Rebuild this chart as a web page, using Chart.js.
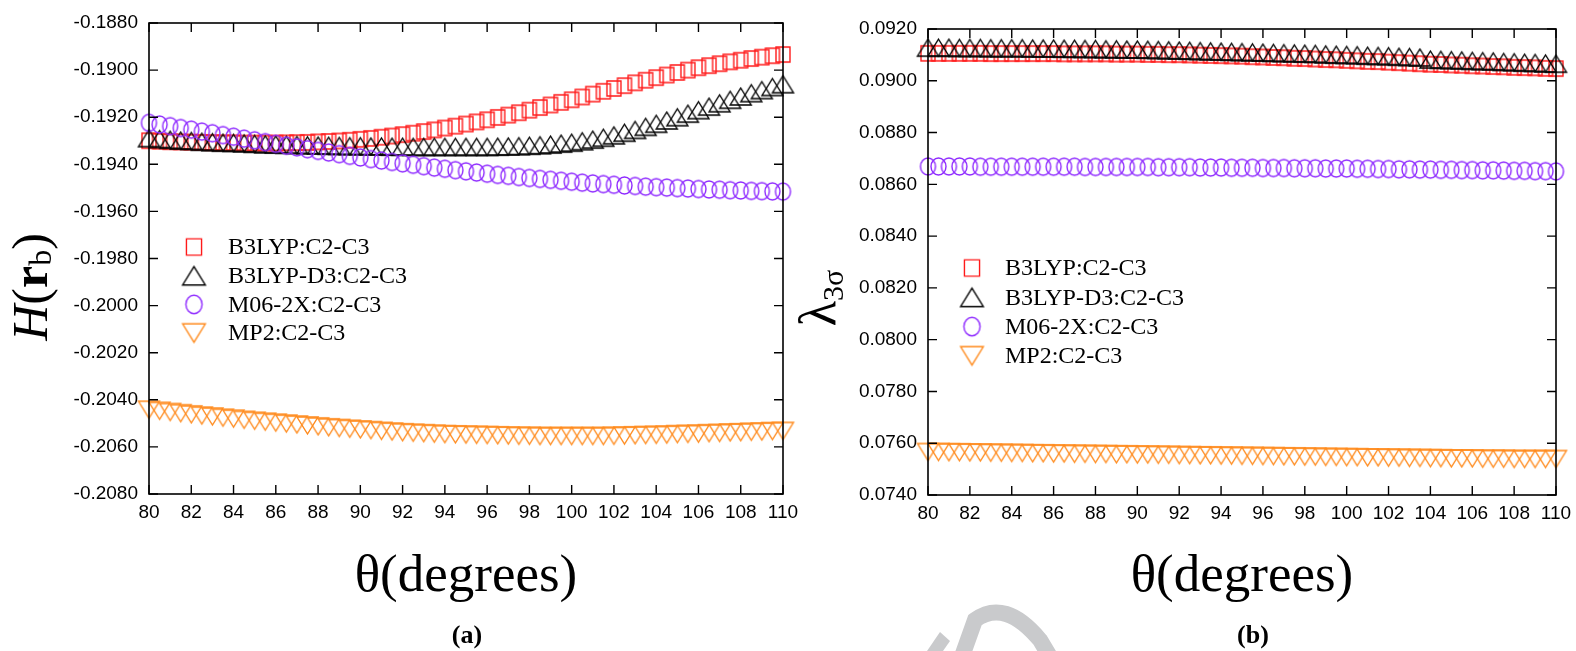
<!DOCTYPE html>
<html><head><meta charset="utf-8">
<script src="https://cdn.jsdelivr.net/npm/chart.js@4.4.1/dist/chart.umd.min.js"></script>
<style>
html,body{margin:0;padding:0;background:#fff;width:1576px;height:651px;overflow:hidden;position:relative}
canvas{position:absolute;top:0}
#wm{left:0}
#ca{left:0}
#cb{left:790px}
</style></head><body>
<canvas id="wm" width="1576" height="651"></canvas>
<canvas id="ca" width="820" height="651"></canvas>
<canvas id="cb" width="786" height="651"></canvas>
<script>
// ---------------- data ----------------
const theta = [80,80.5,81,81.5,82,82.5,83,83.5,84,84.5,85,85.5,86,86.5,87,87.5,88,88.5,89,89.5,90,90.5,91,91.5,92,92.5,93,93.5,94,94.5,95,95.5,96,96.5,97,97.5,98,98.5,99,99.5,100,100.5,101,101.5,102,102.5,103,103.5,104,104.5,105,105.5,106,106.5,107,107.5,108,108.5,109,109.5,110];
const seriesNames = ['B3LYP:C2-C3','B3LYP-D3:C2-C3','M06-2X:C2-C3','MP2:C2-C3'];

// panel (a): H(r_b)
const hB3LYP = [-0.19300,-0.19302,-0.19304,-0.19305,-0.19306,-0.19307,-0.19308,-0.19309,-0.19309,-0.19310,-0.19310,-0.19310,-0.19310,-0.19309,-0.19308,-0.19307,-0.19305,-0.19303,-0.19301,-0.19298,-0.19294,-0.19290,-0.19285,-0.19280,-0.19274,-0.19268,-0.19261,-0.19254,-0.19246,-0.19238,-0.19229,-0.19220,-0.19211,-0.19201,-0.19191,-0.19181,-0.19170,-0.19159,-0.19148,-0.19137,-0.19126,-0.19114,-0.19102,-0.19090,-0.19078,-0.19066,-0.19054,-0.19043,-0.19032,-0.19021,-0.19010,-0.19000,-0.18990,-0.18981,-0.18973,-0.18965,-0.18958,-0.18951,-0.18945,-0.18939,-0.18934];
const hB3LYPD3 = [-0.19289,-0.19293,-0.19296,-0.19299,-0.19301,-0.19304,-0.19306,-0.19308,-0.19309,-0.19311,-0.19313,-0.19315,-0.19316,-0.19317,-0.19318,-0.19319,-0.19320,-0.19321,-0.19322,-0.19323,-0.19323,-0.19324,-0.19324,-0.19325,-0.19325,-0.19326,-0.19326,-0.19326,-0.19326,-0.19326,-0.19326,-0.19326,-0.19326,-0.19325,-0.19324,-0.19323,-0.19321,-0.19319,-0.19316,-0.19312,-0.19308,-0.19302,-0.19295,-0.19287,-0.19277,-0.19266,-0.19254,-0.19241,-0.19228,-0.19214,-0.19200,-0.19185,-0.19170,-0.19155,-0.19141,-0.19126,-0.19112,-0.19098,-0.19085,-0.19072,-0.19060];
const hM062X = [-0.19224,-0.19231,-0.19238,-0.19246,-0.19253,-0.19261,-0.19268,-0.19276,-0.19283,-0.19291,-0.19298,-0.19306,-0.19313,-0.19321,-0.19328,-0.19336,-0.19343,-0.19350,-0.19357,-0.19364,-0.19371,-0.19378,-0.19384,-0.19390,-0.19396,-0.19402,-0.19408,-0.19414,-0.19419,-0.19425,-0.19430,-0.19435,-0.19440,-0.19445,-0.19449,-0.19454,-0.19458,-0.19462,-0.19466,-0.19470,-0.19474,-0.19478,-0.19481,-0.19484,-0.19487,-0.19490,-0.19492,-0.19495,-0.19497,-0.19499,-0.19501,-0.19503,-0.19505,-0.19507,-0.19508,-0.19510,-0.19511,-0.19513,-0.19514,-0.19515,-0.19516];
const hMP2 = [-0.20442,-0.20447,-0.20452,-0.20457,-0.20462,-0.20467,-0.20471,-0.20476,-0.20480,-0.20485,-0.20489,-0.20493,-0.20497,-0.20501,-0.20505,-0.20509,-0.20513,-0.20517,-0.20520,-0.20523,-0.20526,-0.20529,-0.20532,-0.20535,-0.20538,-0.20540,-0.20542,-0.20544,-0.20546,-0.20547,-0.20548,-0.20549,-0.20550,-0.20551,-0.20552,-0.20553,-0.20553,-0.20554,-0.20554,-0.20554,-0.20554,-0.20554,-0.20554,-0.20554,-0.20553,-0.20552,-0.20551,-0.20550,-0.20549,-0.20548,-0.20546,-0.20545,-0.20544,-0.20542,-0.20541,-0.20539,-0.20538,-0.20536,-0.20535,-0.20533,-0.20532];

// panel (b): lambda_3sigma
const lB3LYP = [0.09106,0.09106,0.09106,0.09106,0.09106,0.09106,0.09105,0.09105,0.09105,0.09105,0.09105,0.09105,0.09105,0.09104,0.09104,0.09104,0.09104,0.09104,0.09103,0.09103,0.09103,0.09102,0.09102,0.09101,0.09101,0.09100,0.09099,0.09098,0.09097,0.09096,0.09095,0.09093,0.09092,0.09090,0.09089,0.09087,0.09086,0.09084,0.09082,0.09081,0.09079,0.09077,0.09075,0.09074,0.09072,0.09070,0.09068,0.09066,0.09064,0.09063,0.09061,0.09060,0.09058,0.09057,0.09055,0.09054,0.09052,0.09051,0.09050,0.09048,0.09047];
const lB3LYPD3 = [0.09128,0.09128,0.09128,0.09127,0.09127,0.09127,0.09126,0.09126,0.09126,0.09126,0.09125,0.09125,0.09125,0.09124,0.09124,0.09123,0.09123,0.09122,0.09122,0.09121,0.09121,0.09120,0.09119,0.09118,0.09117,0.09116,0.09115,0.09114,0.09113,0.09112,0.09111,0.09110,0.09109,0.09108,0.09107,0.09106,0.09105,0.09104,0.09102,0.09101,0.09100,0.09099,0.09097,0.09096,0.09095,0.09093,0.09092,0.09090,0.09082,0.09081,0.09080,0.09079,0.09077,0.09076,0.09075,0.09073,0.09072,0.09070,0.09069,0.09067,0.09066];
const lM062X = [0.08669,0.08669,0.08669,0.08669,0.08669,0.08668,0.08668,0.08668,0.08668,0.08668,0.08668,0.08668,0.08668,0.08668,0.08668,0.08667,0.08667,0.08667,0.08667,0.08667,0.08667,0.08667,0.08666,0.08666,0.08666,0.08666,0.08665,0.08665,0.08665,0.08664,0.08664,0.08664,0.08663,0.08663,0.08663,0.08662,0.08662,0.08662,0.08661,0.08661,0.08661,0.08660,0.08660,0.08659,0.08659,0.08658,0.08658,0.08657,0.08657,0.08656,0.08656,0.08655,0.08655,0.08654,0.08654,0.08653,0.08652,0.08652,0.08651,0.08651,0.08650];
const lMP2 = [0.07566,0.07566,0.07565,0.07565,0.07564,0.07564,0.07563,0.07563,0.07562,0.07562,0.07561,0.07561,0.07560,0.07560,0.07559,0.07559,0.07558,0.07558,0.07557,0.07557,0.07556,0.07556,0.07555,0.07555,0.07554,0.07554,0.07553,0.07553,0.07552,0.07552,0.07551,0.07551,0.07550,0.07550,0.07549,0.07549,0.07548,0.07548,0.07547,0.07547,0.07546,0.07546,0.07545,0.07545,0.07544,0.07544,0.07543,0.07543,0.07542,0.07542,0.07541,0.07541,0.07541,0.07540,0.07540,0.07540,0.07539,0.07539,0.07539,0.07539,0.07539];

const xTicks = [80,82,84,86,88,90,92,94,96,98,100,102,104,106,108,110];
const yTicksA = [-0.2080,-0.2060,-0.2040,-0.2020,-0.2000,-0.1980,-0.1960,-0.1940,-0.1920,-0.1900,-0.1880];
const yTicksB = [0.0740,0.0760,0.0780,0.0800,0.0820,0.0840,0.0860,0.0880,0.0900,0.0920];

// ---------------- styles ----------------
const COLORS = ['#ff1a1a','#000000','#8f2bff','#ff8a1c'];
const SERIF = '"Liberation Serif","Times New Roman",serif';
const SANS = '"Liberation Sans",Arial,sans-serif';

function makeMarker(kind, color, s) {
  s = s || 1;
  const lw = 1.4;
  const dims = {square:[14,15], circle:[15,17], up:[21,17], down:[21,17]}[kind];
  const w = dims[0]*s, h = dims[1]*s;
  const c = document.createElement('canvas');
  c.width = Math.ceil(w + 6); c.height = Math.ceil(h + 6);
  const g = c.getContext('2d');
  const cx = c.width/2, cy = c.height/2;
  g.strokeStyle = color; g.lineWidth = lw; g.lineJoin = 'miter';
  g.beginPath();
  if (kind === 'square') g.rect(cx - w/2, cy - h/2, w, h);
  else if (kind === 'circle') g.ellipse(cx, cy, w/2, h/2, 0, 0, Math.PI*2);
  else if (kind === 'up') { g.moveTo(cx, cy - h/2); g.lineTo(cx + w/2, cy + h/2); g.lineTo(cx - w/2, cy + h/2); g.closePath(); }
  else { g.moveTo(cx - w/2, cy - h/2); g.lineTo(cx + w/2, cy - h/2); g.lineTo(cx, cy + h/2); g.closePath(); }
  g.stroke();
  return c;
}
const KINDS = ['square','up','circle','down'];
const MARKS = KINDS.map((k,i) => makeMarker(k, COLORS[i], 1));
const LEGMARKS = KINDS.map((k,i) => makeMarker(k, COLORS[i], 1.08));

function pts(ys) { return theta.map((t,i) => ({x: t, y: ys[i]})); }

function decoPlugin(p) {
  return {
    id: 'deco',
    afterDraw(chart) {
      const ctx = chart.ctx, a = chart.chartArea, xs = chart.scales.x, ys = chart.scales.y;
      ctx.save();
      ctx.strokeStyle = '#000'; ctx.lineWidth = 1.6;
      ctx.strokeRect(a.left, a.top, a.right - a.left, a.bottom - a.top);
      ctx.lineWidth = 1.4;
      ctx.beginPath();
      const TL = 9;
      xTicks.forEach(v => {
        const px = xs.getPixelForValue(v);
        ctx.moveTo(px, a.bottom); ctx.lineTo(px, a.bottom - TL);
        ctx.moveTo(px, a.top); ctx.lineTo(px, a.top + TL);
      });
      p.yTicks.forEach(v => {
        const py = ys.getPixelForValue(v);
        ctx.moveTo(a.left, py); ctx.lineTo(a.left + TL, py);
        ctx.moveTo(a.right, py); ctx.lineTo(a.right - TL, py);
      });
      ctx.stroke();
      // legend
      ctx.fillStyle = '#000';
      ctx.font = '24px ' + SERIF;
      ctx.textAlign = 'left'; ctx.textBaseline = 'middle';
      seriesNames.forEach((n,i) => {
        const y = p.legY + i * p.legDy;
        const m = LEGMARKS[i];
        ctx.drawImage(m, p.legMX - m.width/2, y - m.height/2);
        ctx.fillText(n, p.legTX, y + 1);
      });
      // x title
      ctx.textAlign = 'center'; ctx.textBaseline = 'alphabetic';
      ctx.font = '53px ' + SERIF;
      const cxm = (a.left + a.right) / 2;
      ctx.fillText('\u03B8(degrees)', cxm, 591);
      // panel label
      ctx.font = 'bold 26px ' + SERIF;
      ctx.fillText(p.panel, p.panelX, 643);
      // y title (rotated rich text)
      ctx.translate(p.yTitleX, p.yTitleY);
      ctx.rotate(-Math.PI/2);
      let total = 0;
      p.yTitle.forEach(part => { ctx.font = part.font; total += ctx.measureText(part.t).width; });
      let x = -total/2;
      ctx.textAlign = 'left';
      p.yTitle.forEach(part => { ctx.font = part.font; ctx.fillText(part.t, x, part.dy || 0); x += ctx.measureText(part.t).width; });
      ctx.restore();
    }
  };
}

function makeChart(id, p) {
  const ds = p.series.map((ys,i) => ({
    label: seriesNames[i], data: pts(ys), showLine: false,
    pointStyle: MARKS[i], pointRadius: 8, pointHoverRadius: 8,
    borderColor: COLORS[i], backgroundColor: 'rgba(0,0,0,0)', clip: false, order: 4 - i
  }));
  const tickFont = {family: SANS, size: 19};
  return new Chart(document.getElementById(id), {
    type: 'scatter',
    data: {datasets: ds},
    options: {
      responsive: false, animation: false, devicePixelRatio: 1,
      layout: {padding: {left: 0, top: p.top, right: p.right, bottom: 0}},
      plugins: {legend: {display: false}, tooltip: {enabled: false}},
      events: [],
      scales: {
        x: {
          type: 'linear', min: 80, max: 110,
          afterBuildTicks: s => { s.ticks = xTicks.map(v => ({value: v})); },
          ticks: {font: tickFont, color: '#000', padding: 7, maxRotation: 0, autoSkip: false},
          grid: {display: false, drawTicks: false}, border: {display: false},
          afterFit: s => { s.height = p.xH; s.paddingLeft = 0; s.paddingRight = 0; }
        },
        y: {
          type: 'linear', min: p.yTicks[0], max: p.yTicks[p.yTicks.length-1],
          afterBuildTicks: s => { s.ticks = p.yTicks.map(v => ({value: v})); },
          ticks: {font: tickFont, color: '#000', padding: 11, callback: v => v.toFixed(4)},
          grid: {display: false, drawTicks: false}, border: {display: false},
          afterFit: s => { s.width = p.yW; s.paddingTop = 0; s.paddingBottom = 0; }
        }
      }
    },
    plugins: [decoPlugin(p)]
  });
}

makeChart('ca', {
  series: [hB3LYP, hB3LYPD3, hM062X, hMP2], yTicks: yTicksA,
  top: 23, right: 37, xH: 157, yW: 149,
  legMX: 194, legTX: 228, legY: 247, legDy: 28.7,
  panel: '(a)', panelX: 467,
  yTitleX: 47, yTitleY: 287,
  yTitle: [
    {t: 'H', font: 'italic 50px ' + SERIF},
    {t: '(', font: '50px ' + SERIF},
    {t: 'r', font: 'bold 50px ' + SERIF},
    {t: 'b', font: '32px ' + SERIF, dy: 4},
    {t: ')', font: '50px ' + SERIF}
  ]
});
makeChart('cb', {
  series: [lB3LYP, lB3LYPD3, lM062X, lMP2], yTicks: yTicksB,
  top: 29, right: 20, xH: 156, yW: 138,
  legMX: 972 - 790, legTX: 1005 - 790, legY: 268, legDy: 29.3,
  panel: '(b)', panelX: 1253 - 790,
  yTitleX: 835 - 790, yTitleY: 298,
  yTitle: [
    {t: '\u03BB', font: '52px ' + SERIF},
    {t: '3\u03C3', font: '30px ' + SERIF, dy: 8}
  ]
});

// watermark fragment (light grey)
(function(){
  const g = document.getElementById('wm').getContext('2d');
  g.fillStyle = '#c9cacc';
  g.beginPath(); g.moveTo(927,651); g.lineTo(940,632); g.lineTo(950,641); g.lineTo(943,651); g.closePath(); g.fill();
  g.strokeStyle = '#c9cacc'; g.lineWidth = 16; g.lineCap = 'butt';
  g.beginPath(); g.moveTo(960,662); g.lineTo(975,620); g.quadraticCurveTo(1005,598,1040,640); g.lineTo(1052,660); g.stroke();
})();
</script>
</body></html>
